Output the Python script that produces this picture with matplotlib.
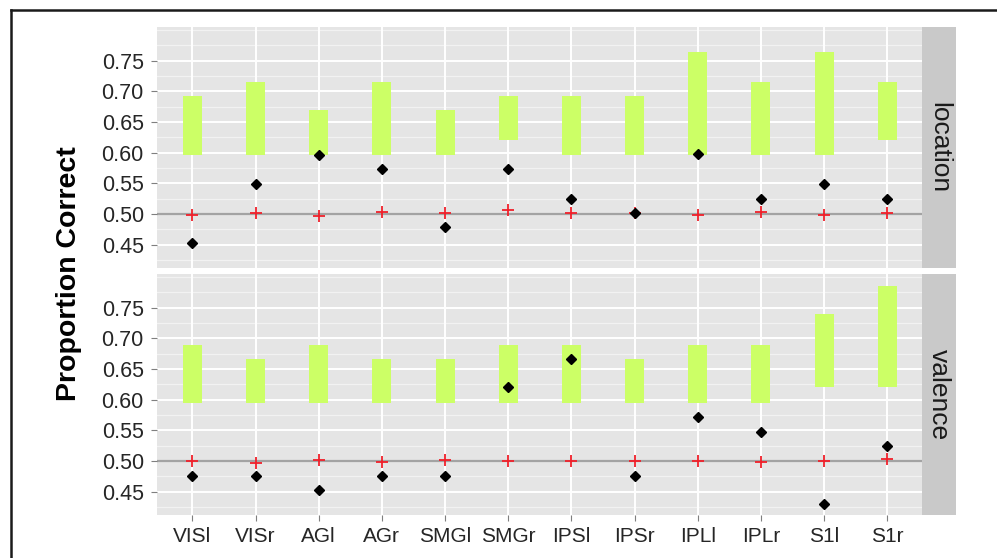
import matplotlib
matplotlib.use("Agg")
import matplotlib.pyplot as plt
import numpy as np
from matplotlib.lines import Line2D

plt.rcParams['font.family'] = ['Liberation Sans', 'DejaVu Sans']

regions = ['VISl', 'VISr', 'AGl', 'AGr', 'SMGl', 'SMGr',
           'IPSl', 'IPSr', 'IPLl', 'IPLr', 'S1l', 'S1r']

# location panel
location_lo = [0.596, 0.596, 0.596, 0.596, 0.596, 0.621, 0.596, 0.596, 0.596, 0.596, 0.596, 0.621]
location_hi = [0.692, 0.715, 0.669, 0.715, 0.669, 0.692, 0.692, 0.692, 0.764, 0.715, 0.764, 0.715]
location_obs = [0.453, 0.549, 0.597, 0.574, 0.479, 0.574, 0.525, 0.501, 0.598, 0.525, 0.549, 0.525]
location_null = [0.499, 0.501, 0.496, 0.503, 0.501, 0.506, 0.501, 0.501, 0.499, 0.503, 0.499, 0.501]

# valence panel
valence_lo = [0.594, 0.594, 0.594, 0.594, 0.594, 0.594, 0.594, 0.594, 0.594, 0.594, 0.620, 0.620]
valence_hi = [0.690, 0.667, 0.690, 0.667, 0.667, 0.690, 0.690, 0.667, 0.690, 0.690, 0.739, 0.785]
valence_obs = [0.476, 0.476, 0.453, 0.476, 0.476, 0.620, 0.666, 0.476, 0.572, 0.548, 0.430, 0.525]
valence_null = [0.500, 0.497, 0.501, 0.499, 0.501, 0.500, 0.500, 0.500, 0.500, 0.498, 0.500, 0.503]

panels = [
    ('location', location_lo, location_hi, location_obs, location_null),
    ('valence', valence_lo, valence_hi, valence_obs, valence_null),
]

W, H = 997, 558
fig = plt.figure(figsize=(W / 100, H / 100), dpi=100)

x = np.arange(len(regions))
major = [0.45, 0.50, 0.55, 0.60, 0.65, 0.70, 0.75]
minor = [0.425, 0.475, 0.525, 0.575, 0.625, 0.675, 0.725, 0.775, 0.80]

# panel pixel boxes (top, bottom)
boxes = [(27, 268), (274, 515)]
px_left, px_right = 157, 922
strip_right = 956

for i, (name, lo, hi, obs, null) in enumerate(panels):
    top, bot = boxes[i]
    ax = fig.add_axes([px_left / W, 1 - bot / H, (px_right - px_left) / W, (bot - top) / H])
    ax.set_facecolor('#E5E5E5')
    for s in ax.spines.values():
        s.set_visible(False)
    ax.set_xlim(-0.56, 11.55)
    ax.set_ylim(0.412, 0.805)

    for v in minor:
        ax.axhline(v, color='#F2F2F2', lw=0.9, zorder=0.5)
    for v in major:
        ax.axhline(v, color='white', lw=1.4, zorder=0.6)
    for xv in x:
        ax.axvline(xv, color='white', lw=1.4, zorder=0.6)

    ax.axhline(0.5, color='#A3A3A3', lw=1.6, zorder=1)

    heights = np.array(hi) - np.array(lo)
    ax.bar(x, heights, bottom=lo, width=0.3, color='#CCFF66', zorder=2)
    ax.plot(x, null, linestyle='none', marker='+', ms=9, mew=1.3,
            color='#F0202A', zorder=3)
    ax.plot(x, obs, linestyle='none', marker='D', ms=4.6, color='black', zorder=4)

    ax.set_yticks(major)
    ax.set_yticklabels(['%.2f' % v for v in major])
    ax.tick_params(axis='y', length=4.5, width=0.8, color='#7F7F7F', pad=5,
                   labelsize=15.5, labelcolor='#262626')
    ax.set_xticks(x)
    if i == 1:
        ax.set_xticklabels(regions)
        ax.tick_params(axis='x', length=4.5, width=0.8, color='#7F7F7F', pad=4,
                       labelsize=15, labelcolor='#262626')
    else:
        ax.tick_params(axis='x', length=0, labelbottom=False)

    # facet strip on the right
    sax = fig.add_axes([px_right / W, 1 - bot / H, (strip_right - px_right) / W, (bot - top) / H])
    sax.set_facecolor('#C9C9C9')
    sax.set_xticks([])
    sax.set_yticks([])
    for s in sax.spines.values():
        s.set_visible(False)
    sax.text(0.5, 0.5, name, rotation=-90, ha='center', va='center',
             fontsize=19, color='#1A1A1A', transform=sax.transAxes)

fig.text(69 / W, 1 - 274 / H, 'Proportion Correct', rotation=90, ha='center',
         va='center', fontsize=20.5, fontweight='bold', color='black')

# outer frame (cropped figure border)
fig.add_artist(Line2D([11 / W, 11 / W], [0, 1 - 10 / H], transform=fig.transFigure,
                      color='#1A1A1A', lw=1.8))
fig.add_artist(Line2D([11 / W, 1], [1 - 10 / H, 1 - 10 / H], transform=fig.transFigure,
                      color='#1A1A1A', lw=1.8))

fig.savefig('out.png', dpi=100)
